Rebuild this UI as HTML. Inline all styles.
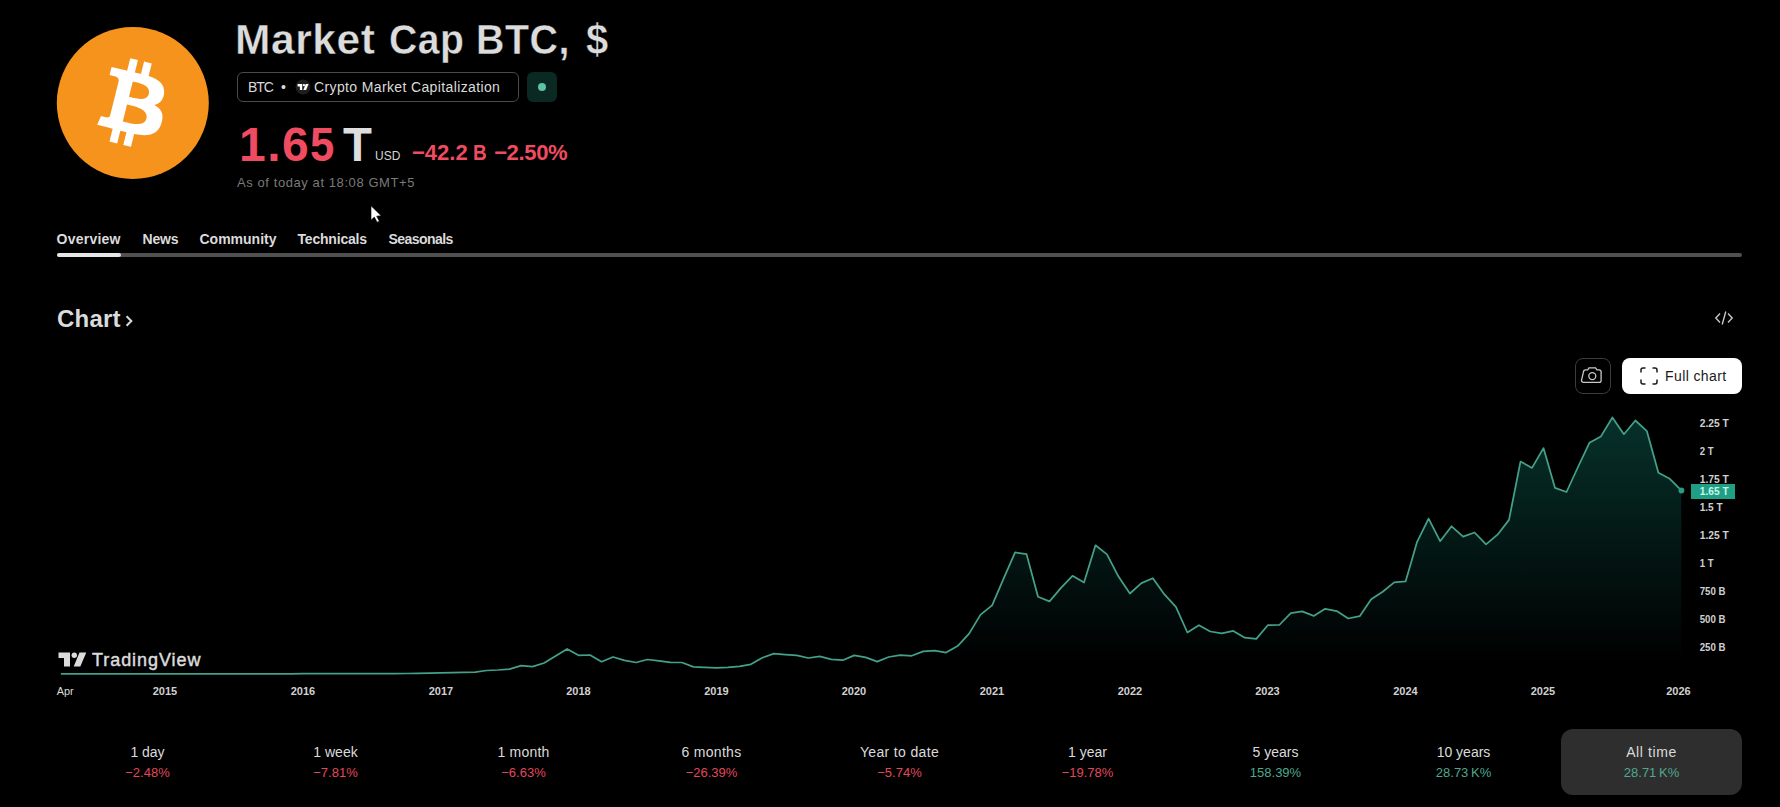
<!DOCTYPE html>
<html lang="en">
<head>
<meta charset="utf-8">
<title>Market Cap BTC, $ — TradingView</title>
<style>
*{box-sizing:border-box;margin:0;padding:0}
html,body{width:1780px;height:807px;background:#000;overflow:hidden}
body{position:relative;font-family:"Liberation Sans",sans-serif;color:#dbdbdb;-webkit-font-smoothing:antialiased}
.abs{position:absolute;white-space:nowrap;line-height:1}
a{color:inherit;text-decoration:none}
/* header */
.logo{position:absolute;left:57px;top:27px;width:152px;height:152px;overflow:visible}
h1{position:absolute;left:0;top:16.500px;font-size:42px;font-weight:700;line-height:46px;color:#dcdcdc;white-space:nowrap;letter-spacing:.55px;-webkit-text-stroke:.4px #000}
h1 span{position:absolute;top:0;transform-origin:0 0}
.pill{position:absolute;left:237px;top:72px;width:282px;height:30px;border:1px solid #4a4a4a;border-radius:6px;font-size:14px;color:#dbdbdb}
.pill span{position:absolute;top:6px;line-height:16px;white-space:nowrap}
.status{position:absolute;left:527px;top:72px;width:30px;height:30px;border-radius:6px;background:#0a2922}
.status i{position:absolute;left:11px;top:11px;width:8px;height:8px;border-radius:50%;background:#5cc3a7}
.price{position:absolute;left:239px;top:121.500px;font-size:48px;font-weight:700;line-height:46px;color:#f04c61;white-space:nowrap;letter-spacing:1.5px}
.unit{position:absolute;left:342.500px;top:121.500px;font-size:48px;font-weight:700;line-height:46px;color:#dedede;transform:scaleX(.985);transform-origin:0 0}
.cur{position:absolute;left:375px;top:149px;font-size:12px;line-height:14px;color:#d6d6d6}
.chg{position:absolute;left:412px;top:141px;font-size:22px;font-weight:700;line-height:24px;color:#f04c61;white-space:nowrap}
.asof{position:absolute;left:237px;top:175px;font-size:13px;line-height:15px;color:#7a7a7a;white-space:nowrap;letter-spacing:.58px}
/* tabs */
nav a{position:absolute;top:231px;font-size:14px;font-weight:700;line-height:16px;color:#dbdbdb;white-space:nowrap}
.rail{position:absolute;left:57px;top:253px;width:1685px;height:4px;border-radius:2px;background:#505050}
.rail b{position:absolute;left:0;top:0;width:64px;height:4px;border-radius:2px;background:#e6e6e6}
h2{position:absolute;left:57px;top:305px;font-size:24px;font-weight:700;line-height:28px;color:#dbdbdb;white-space:nowrap;letter-spacing:.2px}
.embed{position:absolute;left:1713.500px;top:308px;width:20px;height:20px}
.snap{position:absolute;left:1575px;top:358px;width:36px;height:36px;border:1px solid #3c3c3c;border-radius:8px}
.full{position:absolute;left:1622px;top:358px;width:120px;height:36px;border-radius:8px;background:#fff;color:#1a1a1a;font-size:14px}
.full span{position:absolute;left:43px;top:10px;line-height:16px;white-space:nowrap;letter-spacing:.4px}
.full svg{position:absolute;left:16.500px;top:7.600px}
svg.chart{position:absolute;left:0;top:400px}
svg.chart text{font-family:"Liberation Sans",sans-serif;font-weight:700;fill:#d0d0d0}
/* ranges */
.rng{position:absolute;top:729px;width:181px;height:66px;border-radius:12px;text-align:center}
.rng.on{background:#2e2e2e}
.rng b{display:block;margin-top:14.500px;font-size:14px;font-weight:400;line-height:16px;color:#dbdbdb}
.rng i{display:block;margin-top:5px;font-size:13px;font-style:normal;line-height:15px}
.dn{color:#e0485c}.up{color:#4fa890}
</style>
</head>
<body>
<header>
<svg class="logo" viewBox="0 0 152 152" aria-label="Bitcoin">
<circle cx="75.800" cy="76" r="76" fill="#f6931c"/>
<path transform="translate(6.080 6.700) scale(2.190)" fill="#fff" d="m46.103,27.444c0.637-4.258-2.605-6.547-7.038-8.074l1.438-5.768-3.511-0.875-1.400,5.616c-0.923-0.230-1.871-0.447-2.813-0.662l1.410-5.653-3.509-0.875-1.439,5.766c-0.764-0.174-1.514-0.346-2.242-0.527l0.004-0.018-4.842-1.209-0.934,3.750s2.605,0.597,2.550,0.634c1.422,0.355,1.679,1.296,1.636,2.042l-1.638,6.571c0.098,0.025,0.225,0.061,0.365,0.117-0.117-0.029-0.242-0.061-0.371-0.092l-2.296,9.205c-0.174,0.432-0.615,1.080-1.609,0.834,0.035,0.051-2.552-0.637-2.552-0.637l-1.743,4.019,4.569,1.139c0.850,0.213,1.683,0.436,2.503,0.646l-1.453,5.834,3.507,0.875,1.439-5.772c0.958,0.260,1.888,0.500,2.798,0.726l-1.434,5.745,3.511,0.875,1.453-5.823c5.987,1.133,10.489,0.676,12.384-4.739,1.527-4.360-0.076-6.875-3.226-8.515,2.294-0.529,4.022-2.038,4.483-5.155zm-8.022,11.249c-1.085,4.360-8.426,2.003-10.806,1.412l1.928-7.729c2.380,0.594,10.012,1.770,8.878,6.317zm1.086-11.312c-0.990,3.966-7.100,1.951-9.082,1.457l1.748-7.010c1.982,0.494,8.365,1.416,7.334,5.553z"/>
</svg>
<h1><span style="left:235px;transform:scaleX(1.012)">Market </span><span style="left:388.700px;transform:scaleX(.931)">Cap </span><span style="left:476.400px;transform:scaleX(.937)">BTC, </span><span style="left:586.300px;transform:scaleX(.95)">$</span></h1>
<div class="pill"><span style="left:10px;letter-spacing:-1.100px">BTC</span><span style="left:43px">•</span>
<svg style="position:absolute;left:57px;top:6px" width="16" height="16" viewBox="0 0 16 16"><circle cx="8" cy="8" r="7.5" fill="#1e1e1e"/><path d="M2.600 5.100h4.600v5.800h-2.300v-3.500h-2.300z" fill="#fff"/><circle cx="8.900" cy="6.200" r="1.150" fill="#fff"/><path d="M10.700 5.100h2.900l-2.500 5.800h-2.800z" fill="#fff"/></svg>
<span style="left:76px;letter-spacing:.37px">Crypto Market Capitalization</span></div>
<div class="status"><i></i></div>
<div class="price">1.6<span style="display:inline-block;transform:scaleX(.91);transform-origin:0 0">5</span></div><div class="unit">T</div><div class="cur">USD</div>
<div class="chg">−42.2<span style="margin-left:-1.200px"> </span><span style="display:inline-block;transform:scaleX(.86);transform-origin:0 0">B</span><span style="margin-left:-.5px"> </span><span style="letter-spacing:-.35px">−2.50%</span></div>
<div class="asof">As of today at 18:08 GMT+5</div>
<svg style="position:absolute;left:365px;top:200px" width="24" height="28" viewBox="365 200 24 28" aria-hidden="true"><path d="M371 205.800L371 220.200L374.300 217.100L377.100 222.300L379.400 221.200L376.700 216.200L381.200 215.700Z" fill="#fff" stroke="#000" stroke-width=".6"/></svg>
</header>
<nav>
<a style="left:56.500px;letter-spacing:.25px">Overview</a><a style="left:142.500px;letter-spacing:-.15px">News</a><a style="left:199.500px">Community</a><a style="left:297.500px;letter-spacing:-.2px">Technicals</a><a style="left:388.500px;letter-spacing:-.55px">Seasonals</a>
<div class="rail"><b></b></div>
</nav>
<main>
<h2>Chart<svg style="position:absolute;left:67px;top:9px" width="12" height="16" viewBox="0 0 12 16" fill="none" stroke="#dbdbdb" stroke-width="2"><path d="M2.600 2.300L7.300 7L2.600 11.700"/></svg></h2>
<svg class="embed" viewBox="0 0 20 20" fill="none" stroke="#c8c8c8" stroke-width="1.4"><path d="M6 5.500L1.800 10L6 14.500M14 5.500L18.200 10L14 14.500M11.800 3.500L8.200 16.500"/></svg>
<div class="snap"><svg width="34" height="34" viewBox="0 0 34 34" fill="none" stroke="#c8c8c8" stroke-width="1.3"><path d="M7.500 12.800a1.900 1.900 0 0 1 1.900-1.900h2.300l1.300-2h6.600l1.300 2h2.300a1.900 1.900 0 0 1 1.900 1.900v8.600a1.900 1.900 0 0 1-1.900 1.900h-15.800a1.900 1.900 0 0 1-1.900-1.900z"/><circle cx="16.300" cy="17.100" r="3.500"/></svg></div>
<div class="full"><svg width="20" height="20" viewBox="0 0 20 20" fill="none" stroke="#1a1a1a" stroke-width="1.500"><path d="M2 6.500v-2.500a2 2 0 0 1 2-2h2.500M13.500 2h2.500a2 2 0 0 1 2 2v2.500M18 13.500v2.500a2 2 0 0 1-2 2h-2.500M6.500 18h-2.500a2 2 0 0 1-2-2v-2.500"/></svg><span>Full chart</span></div>
<svg class="chart" width="1780" height="310" viewBox="0 400 1780 310">
<defs><linearGradient id="g" x1="0" y1="417" x2="0" y2="675" gradientUnits="userSpaceOnUse"><stop offset="0" stop-color="#16ab94" stop-opacity=".285"/><stop offset=".6" stop-color="#16ab94" stop-opacity=".105"/><stop offset=".96" stop-color="#16ab94" stop-opacity="0"/></linearGradient></defs>
<path d="M61.6 673.9 L73.1 673.9 L84.6 673.9 L96.1 673.9 L107.6 673.9 L119.0 673.9 L130.5 673.9 L142.0 673.9 L153.5 673.9 L165.0 673.9 L176.5 673.9 L188.0 673.9 L199.5 673.9 L210.9 673.9 L222.4 673.9 L233.9 673.9 L245.4 673.9 L256.9 673.9 L268.4 673.9 L279.9 673.9 L291.4 673.9 L302.8 673.7 L314.3 673.7 L325.8 673.7 L337.3 673.7 L348.8 673.7 L360.3 673.7 L371.8 673.7 L383.3 673.7 L394.7 673.7 L406.2 673.5 L417.7 673.3 L429.2 673.1 L440.7 672.9 L452.2 672.7 L463.7 672.4 L475.2 672.1 L486.6 670.5 L498.1 670.0 L509.6 669.1 L521.1 665.6 L532.6 666.6 L544.1 663.0 L555.6 656.1 L567.1 648.9 L578.5 655.3 L590.0 655.0 L601.5 661.7 L613.0 657.0 L624.5 660.3 L636.0 662.5 L647.5 659.5 L659.0 660.8 L670.4 662.4 L681.9 662.5 L693.4 666.9 L704.9 667.4 L716.4 667.9 L727.9 667.3 L739.4 666.4 L750.9 664.3 L762.3 657.8 L773.8 653.6 L785.3 654.6 L796.8 655.4 L808.3 658.0 L819.8 656.4 L831.3 659.4 L842.8 660.2 L854.2 655.4 L865.7 657.4 L877.2 661.6 L888.7 657.0 L900.2 655.2 L911.7 655.8 L923.2 651.4 L934.7 650.6 L946.1 652.6 L957.6 646.1 L969.1 633.6 L980.6 614.6 L992.1 605.4 L1003.6 578.7 L1015.1 552.4 L1026.5 554.1 L1038.0 596.8 L1049.5 601.4 L1061.0 587.9 L1072.5 575.8 L1084.0 582.5 L1095.5 545.3 L1107.0 554.4 L1118.5 576.6 L1129.9 593.5 L1141.4 583.1 L1152.9 578.2 L1164.4 594.4 L1175.9 606.9 L1187.4 632.5 L1198.9 625.2 L1210.3 631.5 L1221.8 633.3 L1233.3 630.9 L1244.8 637.7 L1256.3 638.9 L1267.8 625.2 L1279.3 625.0 L1290.8 613.1 L1302.2 611.4 L1313.7 615.9 L1325.2 608.8 L1336.7 611.1 L1348.2 618.5 L1359.7 616.2 L1371.2 599.2 L1382.7 591.8 L1394.2 582.4 L1405.6 581.4 L1417.1 541.8 L1428.6 518.6 L1440.1 541.2 L1451.6 526.3 L1463.1 536.6 L1474.6 532.5 L1486.0 544.4 L1497.5 534.7 L1509.0 519.9 L1520.5 461.6 L1532.0 467.9 L1543.5 448.1 L1555.0 487.9 L1566.5 492.0 L1578.0 467.0 L1589.4 442.8 L1600.9 436.4 L1612.4 417.5 L1623.9 434.2 L1635.4 420.5 L1646.9 431.2 L1658.4 472.8 L1669.8 478.8 L1681.3 490.4 L1681.3 675 L61.6 675 Z" fill="url(#g)"/>
<path d="M61.6 673.9 L73.1 673.9 L84.6 673.9 L96.1 673.9 L107.6 673.9 L119.0 673.9 L130.5 673.9 L142.0 673.9 L153.5 673.9 L165.0 673.9 L176.5 673.9 L188.0 673.9 L199.5 673.9 L210.9 673.9 L222.4 673.9 L233.9 673.9 L245.4 673.9 L256.9 673.9 L268.4 673.9 L279.9 673.9 L291.4 673.9 L302.8 673.7 L314.3 673.7 L325.8 673.7 L337.3 673.7 L348.8 673.7 L360.3 673.7 L371.8 673.7 L383.3 673.7 L394.7 673.7 L406.2 673.5 L417.7 673.3 L429.2 673.1 L440.7 672.9 L452.2 672.7 L463.7 672.4 L475.2 672.1 L486.6 670.5 L498.1 670.0 L509.6 669.1 L521.1 665.6 L532.6 666.6 L544.1 663.0 L555.6 656.1 L567.1 648.9 L578.5 655.3 L590.0 655.0 L601.5 661.7 L613.0 657.0 L624.5 660.3 L636.0 662.5 L647.5 659.5 L659.0 660.8 L670.4 662.4 L681.9 662.5 L693.4 666.9 L704.9 667.4 L716.4 667.9 L727.9 667.3 L739.4 666.4 L750.9 664.3 L762.3 657.8 L773.8 653.6 L785.3 654.6 L796.8 655.4 L808.3 658.0 L819.8 656.4 L831.3 659.4 L842.8 660.2 L854.2 655.4 L865.7 657.4 L877.2 661.6 L888.7 657.0 L900.2 655.2 L911.7 655.8 L923.2 651.4 L934.7 650.6 L946.1 652.6 L957.6 646.1 L969.1 633.6 L980.6 614.6 L992.1 605.4 L1003.6 578.7 L1015.1 552.4 L1026.5 554.1 L1038.0 596.8 L1049.5 601.4 L1061.0 587.9 L1072.5 575.8 L1084.0 582.5 L1095.5 545.3 L1107.0 554.4 L1118.5 576.6 L1129.9 593.5 L1141.4 583.1 L1152.9 578.2 L1164.4 594.4 L1175.9 606.9 L1187.4 632.5 L1198.9 625.2 L1210.3 631.5 L1221.8 633.3 L1233.3 630.9 L1244.8 637.7 L1256.3 638.9 L1267.8 625.2 L1279.3 625.0 L1290.8 613.1 L1302.2 611.4 L1313.7 615.9 L1325.2 608.8 L1336.7 611.1 L1348.2 618.5 L1359.7 616.2 L1371.2 599.2 L1382.7 591.8 L1394.2 582.4 L1405.6 581.4 L1417.1 541.8 L1428.6 518.6 L1440.1 541.2 L1451.6 526.3 L1463.1 536.6 L1474.6 532.5 L1486.0 544.4 L1497.5 534.7 L1509.0 519.9 L1520.5 461.6 L1532.0 467.9 L1543.5 448.1 L1555.0 487.9 L1566.5 492.0 L1578.0 467.0 L1589.4 442.8 L1600.9 436.4 L1612.4 417.5 L1623.9 434.2 L1635.4 420.5 L1646.9 431.2 L1658.4 472.8 L1669.8 478.8 L1681.3 490.4" fill="none" stroke="#44a089" stroke-width="1.750" stroke-linejoin="round" stroke-linecap="round"/>
<circle cx="1681.400" cy="490.500" r="2.900" fill="#2b9c84"/>
<g font-size="11">
<text x="1699.700" y="427.4" textLength="29" lengthAdjust="spacingAndGlyphs">2.25 T</text><text x="1699.700" y="455.3" textLength="13.800" lengthAdjust="spacingAndGlyphs">2 T</text><text x="1699.700" y="483.3" textLength="29" lengthAdjust="spacingAndGlyphs">1.75 T</text><text x="1699.700" y="511.2" textLength="23" lengthAdjust="spacingAndGlyphs">1.5 T</text><text x="1699.700" y="539.2" textLength="29" lengthAdjust="spacingAndGlyphs">1.25 T</text><text x="1699.700" y="567.1" textLength="13.800" lengthAdjust="spacingAndGlyphs">1 T</text><text x="1699.700" y="595.0" textLength="25.800" lengthAdjust="spacingAndGlyphs">750 B</text><text x="1699.700" y="623.0" textLength="25.800" lengthAdjust="spacingAndGlyphs">500 B</text><text x="1699.700" y="650.9" textLength="25.800" lengthAdjust="spacingAndGlyphs">250 B</text>
</g>
<rect x="1691" y="484" width="44" height="15" fill="#1f9f84"/>
<text x="1699.700" y="494.600" font-size="11" textLength="29" lengthAdjust="spacingAndGlyphs" style="fill:#c9f7ea">1.65 T</text>
<g font-size="11" text-anchor="middle">
<text x="65.200" y="694.800" textLength="17" lengthAdjust="spacingAndGlyphs" style="font-weight:400;fill:#dcdcdc">Apr</text><text x="165" y="694.800">2015</text><text x="303" y="694.800">2016</text><text x="441" y="694.800">2017</text><text x="578.500" y="694.800">2018</text><text x="716.500" y="694.800">2019</text><text x="854" y="694.800">2020</text><text x="992" y="694.800">2021</text><text x="1130" y="694.800">2022</text><text x="1267.500" y="694.800">2023</text><text x="1405.500" y="694.800">2024</text><text x="1543" y="694.800">2025</text><text x="1678.500" y="694.800">2026</text>
</g>
<g fill="#dcdcdc">
<path d="M58.500 652.500h11.500v14h-6v-8.500h-5.500z"/><circle cx="74.300" cy="655.200" r="2.700"/><path d="M79.500 652.500h6.800l-6 14h-6.600z"/>
</g>
<text x="92" y="665.800" font-size="18" textLength="108.500" lengthAdjust="spacing" style="font-weight:400;fill:#dcdcdc;stroke:#dcdcdc;stroke-width:.45px">TradingView</text>
</svg>
<section>
<div class="rng" style="left:57px"><b>1 day</b><i class="dn">−2.48%</i></div>
<div class="rng" style="left:245px"><b>1 week</b><i class="dn">−7.81%</i></div>
<div class="rng" style="left:433px"><b style="letter-spacing:.2px">1 month</b><i class="dn">−6.63%</i></div>
<div class="rng" style="left:621px"><b style="letter-spacing:.3px">6 months</b><i class="dn">−26.39%</i></div>
<div class="rng" style="left:809px"><b style="letter-spacing:.35px">Year to date</b><i class="dn">−5.74%</i></div>
<div class="rng" style="left:997px"><b>1 year</b><i class="dn">−19.78%</i></div>
<div class="rng" style="left:1185px"><b>5 years</b><i class="up">158.39%</i></div>
<div class="rng" style="left:1373px"><b>10 years</b><i class="up" style="word-spacing:-1px">28.73 K%</i></div>
<div class="rng on" style="left:1561px"><b style="letter-spacing:.6px">All time</b><i class="up" style="word-spacing:-1px">28.71 K%</i></div>
</section>
</main>
</body>
</html>
